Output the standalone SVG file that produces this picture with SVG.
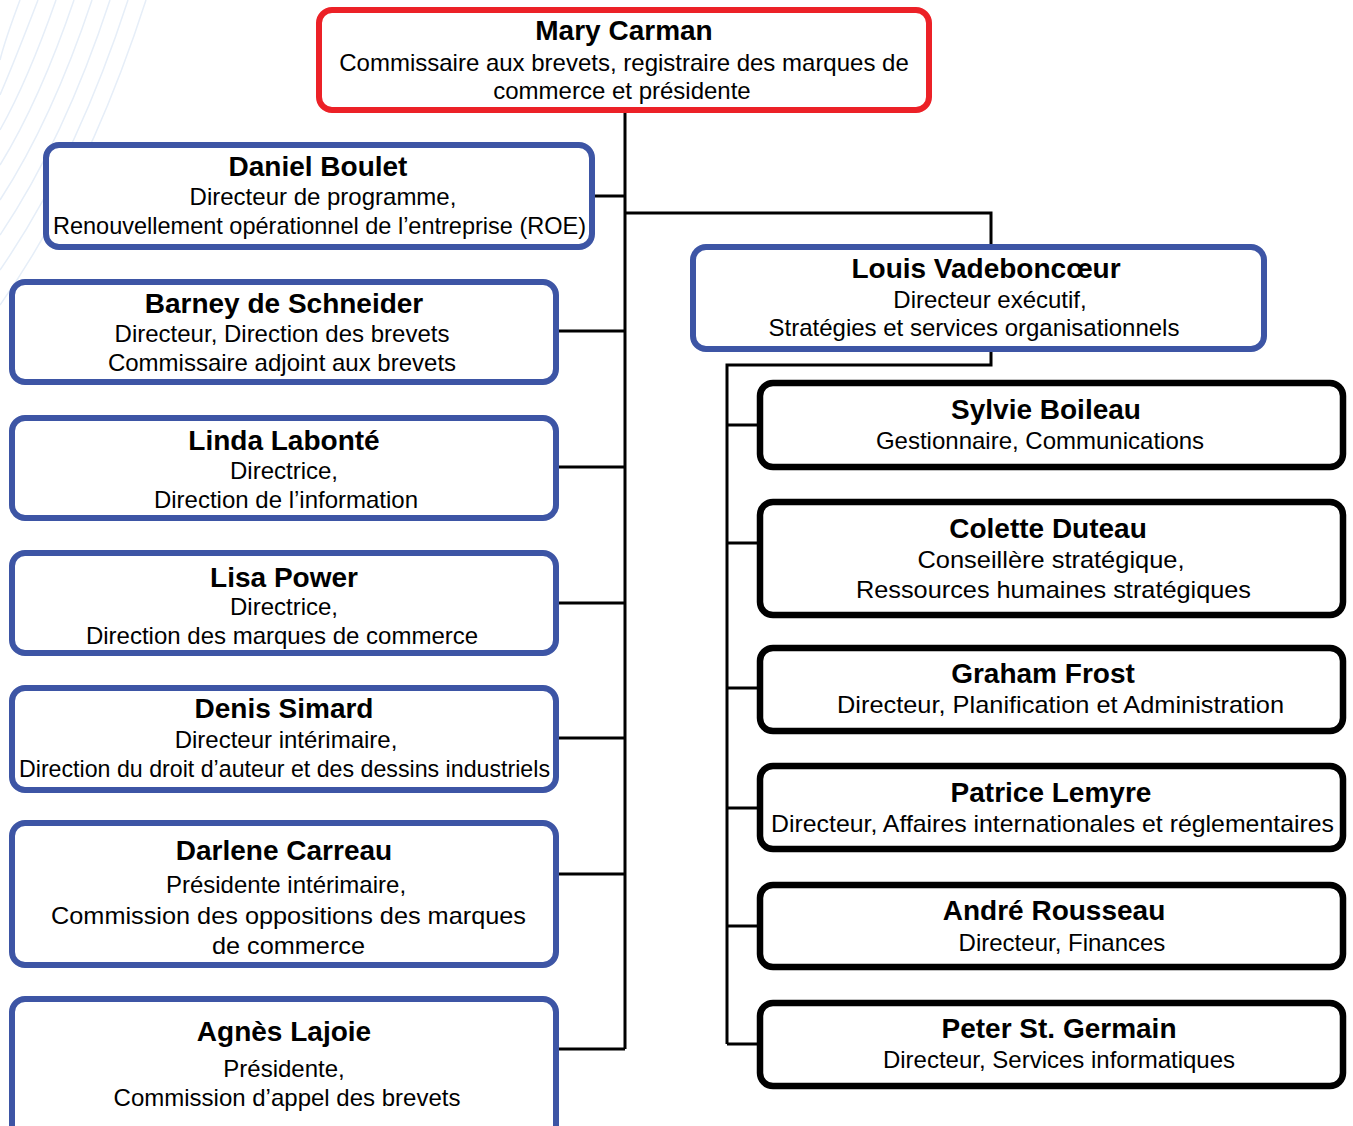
<svg xmlns="http://www.w3.org/2000/svg" width="1353" height="1126" viewBox="0 0 1353 1126">
<style>
text{font-family:"Liberation Sans",Arial,sans-serif;text-anchor:middle;fill:#000}
.t{font-size:28px;font-weight:bold}
.s{font-size:24px}
.red{fill:#fff;stroke:#ec2127;stroke-width:6}
.blue{fill:#fff;stroke:#3d55a5;stroke-width:6}
.blk{fill:#fff;stroke:#000;stroke-width:6.5}
.con{fill:none;stroke:#000;stroke-width:3}
.deco{fill:none;stroke:#e6eef8;stroke-width:1.5}
</style>
<rect width="1353" height="1126" fill="#fff"/>
<g id="decoration">
<path class="deco" d="M20 0 Q5 40 0 60"/>
<path class="deco" d="M38 0 Q15 60 0 95"/>
<path class="deco" d="M56 0 Q28 80 0 130"/>
<path class="deco" d="M74 0 Q40 100 0 165"/>
<path class="deco" d="M92 0 Q52 120 0 200"/>
<path class="deco" d="M110 0 Q64 140 0 235"/>
<path class="deco" d="M128 0 Q76 160 0 270"/>
<path class="deco" d="M146 0 Q88 180 0 305"/>
</g>
<g id="connectors">
<path class="con" d="M625 113V1049"/>
<path class="con" d="M625 213H991V247"/>
<path class="con" d="M592 196H625"/>
<path class="con" d="M556 331H625"/>
<path class="con" d="M556 467H625"/>
<path class="con" d="M556 603H625"/>
<path class="con" d="M556 738H625"/>
<path class="con" d="M556 874H625"/>
<path class="con" d="M556 1049H625"/>
<path class="con" d="M991 352V365H727V1044"/>
<path class="con" d="M727 425H760"/>
<path class="con" d="M727 543H760"/>
<path class="con" d="M727 688H760"/>
<path class="con" d="M727 808H760"/>
<path class="con" d="M727 926H760"/>
<path class="con" d="M727 1044H760"/>
</g>
<g id="mary-carman">
<rect class="red" x="319" y="10" width="610" height="100" rx="13"/>
<text class="t" x="624" y="40">Mary Carman</text>
<text class="s" x="624" y="71">Commissaire aux brevets, registraire des marques de</text>
<text class="s" x="622" y="99">commerce et présidente</text>
</g>
<g id="daniel-boulet">
<rect class="blue" x="46" y="145" width="546" height="102" rx="13"/>
<text class="t" x="318" y="176">Daniel Boulet</text>
<text class="s" x="323" y="205">Directeur de programme,</text>
<text class="s" x="319.5" y="234" textLength="533" lengthAdjust="spacingAndGlyphs">Renouvellement opérationnel de l’entreprise (ROE)</text>
</g>
<g id="barney-de-schneider">
<rect class="blue" x="12" y="282" width="544" height="100" rx="13"/>
<text class="t" x="284" y="313">Barney de Schneider</text>
<text class="s" x="282" y="342">Directeur, Direction des brevets</text>
<text class="s" x="282" y="371">Commissaire adjoint aux brevets</text>
</g>
<g id="linda-labonte">
<rect class="blue" x="12" y="418" width="544" height="100" rx="13"/>
<text class="t" x="284" y="450">Linda Labonté</text>
<text class="s" x="284" y="479">Directrice,</text>
<text class="s" x="286" y="508">Direction de l’information</text>
</g>
<g id="lisa-power">
<rect class="blue" x="12" y="553" width="544" height="100" rx="13"/>
<text class="t" x="284" y="587">Lisa Power</text>
<text class="s" x="284" y="615">Directrice,</text>
<text class="s" x="282" y="644">Direction des marques de commerce</text>
</g>
<g id="denis-simard">
<rect class="blue" x="12" y="688" width="544" height="102" rx="13"/>
<text class="t" x="284" y="718">Denis Simard</text>
<text class="s" x="286" y="748">Directeur intérimaire,</text>
<text class="s" x="284.5" y="777" textLength="531" lengthAdjust="spacingAndGlyphs">Direction du droit d’auteur et des dessins industriels</text>
</g>
<g id="darlene-carreau">
<rect class="blue" x="12" y="823" width="544" height="142" rx="13"/>
<text class="t" x="284" y="860">Darlene Carreau</text>
<text class="s" x="286" y="893">Présidente intérimaire,</text>
<text class="s" x="288.5" y="924" textLength="475" lengthAdjust="spacingAndGlyphs">Commission des oppositions des marques</text>
<text class="s" x="288.5" y="954" textLength="153" lengthAdjust="spacingAndGlyphs">de commerce</text>
</g>
<g id="agnes-lajoie">
<rect class="blue" x="12" y="999" width="544" height="150" rx="13"/>
<text class="t" x="284" y="1041">Agnès Lajoie</text>
<text class="s" x="284" y="1077">Présidente,</text>
<text class="s" x="287" y="1106">Commission d’appel des brevets</text>
</g>
<g id="louis-vadeboncoeur">
<rect class="blue" x="693" y="247" width="571" height="102" rx="13"/>
<text class="t" x="986" y="278">Louis Vadeboncœur</text>
<text class="s" x="990" y="308">Directeur exécutif,</text>
<text class="s" x="974" y="336">Stratégies et services organisationnels</text>
</g>
<g id="sylvie-boileau">
<rect class="blk" x="760" y="383" width="583" height="84" rx="13"/>
<text class="t" x="1046" y="419">Sylvie Boileau</text>
<text class="s" x="1040" y="449">Gestionnaire, Communications</text>
</g>
<g id="colette-duteau">
<rect class="blk" x="760" y="502" width="583" height="113" rx="13"/>
<text class="t" x="1048" y="538">Colette Duteau</text>
<text class="s" x="1051" y="568" textLength="267" lengthAdjust="spacingAndGlyphs">Conseillère stratégique,</text>
<text class="s" x="1053.5" y="598" textLength="395" lengthAdjust="spacingAndGlyphs">Ressources humaines stratégiques</text>
</g>
<g id="graham-frost">
<rect class="blk" x="760" y="648" width="583" height="83" rx="13"/>
<text class="t" x="1043" y="683">Graham Frost</text>
<text class="s" x="1060.5" y="713" textLength="447" lengthAdjust="spacingAndGlyphs">Directeur, Planification et Administration</text>
</g>
<g id="patrice-lemyre">
<rect class="blk" x="760" y="766" width="583" height="83" rx="13"/>
<text class="t" x="1051" y="802">Patrice Lemyre</text>
<text class="s" x="1052.5" y="832" textLength="563" lengthAdjust="spacingAndGlyphs">Directeur, Affaires internationales et réglementaires</text>
</g>
<g id="andre-rousseau">
<rect class="blk" x="760" y="885" width="583" height="82" rx="13"/>
<text class="t" x="1054" y="920">André Rousseau</text>
<text class="s" x="1062" y="951">Directeur, Finances</text>
</g>
<g id="peter-st-germain">
<rect class="blk" x="760" y="1003" width="583" height="83" rx="13"/>
<text class="t" x="1059" y="1038">Peter St. Germain</text>
<text class="s" x="1059" y="1068">Directeur, Services informatiques</text>
</g>
</svg>
